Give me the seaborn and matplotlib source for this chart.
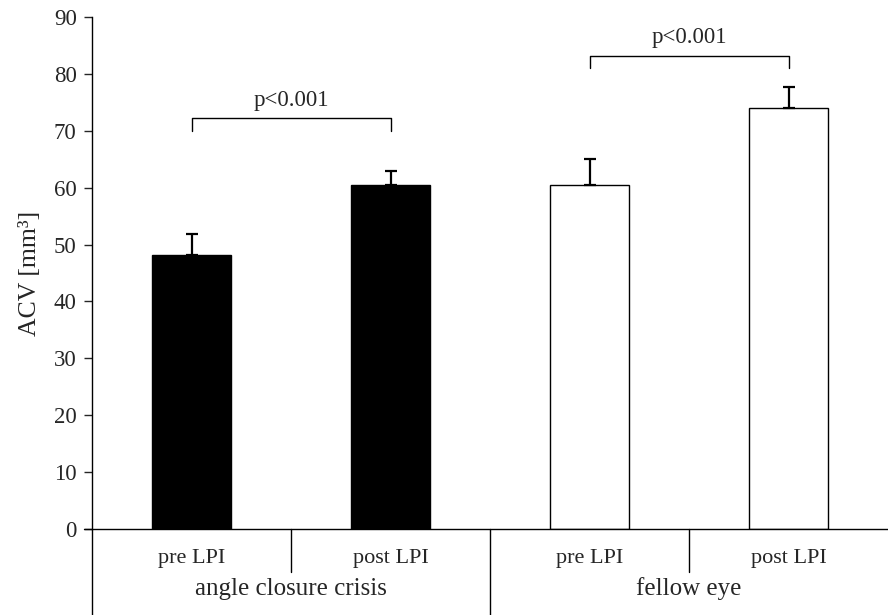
import matplotlib
matplotlib.use("Agg")
import matplotlib.pyplot as plt
import matplotlib.transforms as mtransforms
import pandas as pd
import seaborn as sns

# --------------------------------------------------------------
# Data
# --------------------------------------------------------------
groups = ["angle closure crisis", "angle closure crisis", "fellow eye", "fellow eye"]
timepoints = ["pre LPI", "post LPI", "pre LPI", "post LPI"]
acv_mean = [48.2, 60.5, 60.4, 74.0]
acv_sd = [3.6, 2.4, 4.7, 3.7]
brackets = [(0, 1, 70.0, 72.2), (2, 3, 81.0, 83.2)]
p_label = "p<0.001"

df = pd.DataFrame(
    {
        "key": [f"{g}|{t}" for g, t in zip(groups, timepoints)],
        "group": groups,
        "time": timepoints,
        "acv": acv_mean,
    }
)

# --------------------------------------------------------------
# Plot
# --------------------------------------------------------------
sns.set_style("white")
plt.rcParams["font.family"] = ["Liberation Serif", "DejaVu Serif"]

fig = plt.figure(figsize=(8.88, 6.15), dpi=100)
ax = fig.add_axes([92 / 888, 86 / 615, 796 / 888, 512 / 615])

sns.barplot(
    data=df,
    x="key",
    y="acv",
    hue="group",
    palette={"angle closure crisis": "black", "fellow eye": "white"},
    edgecolor="black",
    linewidth=1.0,
    width=0.4,
    dodge=False,
    legend=False,
    ax=ax,
)

ax.errorbar(
    range(len(acv_mean)),
    acv_mean,
    yerr=[[0] * len(acv_sd), acv_sd],
    fmt="none",
    ecolor="black",
    elinewidth=1.6,
    capsize=4.3,
    capthick=1.6,
)

# significance brackets
for x0, x1, y_end, y_top in brackets:
    ax.plot([x0, x0, x1, x1], [y_end, y_top, y_top, y_end], color="black", lw=1.0)
    ax.text((x0 + x1) / 2, y_top + 1.3, p_label, ha="center", va="bottom", fontsize=16.5)

ax.set_xlim(-0.5, 3.5)
ax.set_ylim(0, 90)
ax.set_yticks(range(0, 91, 10))
ax.tick_params(axis="y", labelsize=16.5, length=6, width=1, direction="out", left=True, pad=5)
ax.set_xticks([])
ax.set_xlabel("")
ax.set_ylabel("ACV [mm³]", fontsize=18.5, labelpad=9)

for side in ["top", "right", "bottom"]:
    ax.spines[side].set_visible(False)
ax.spines["left"].set_color("black")
ax.spines["left"].set_linewidth(1.0)

# two level category axis
trans = mtransforms.blended_transform_factory(ax.transData, ax.transAxes)
ax.plot([-0.5 - 0.04, 3.5], [0, 0], transform=trans, color="black", lw=1.0, clip_on=False)
ax.plot([-0.5, -0.5], [0, -0.168], transform=trans, color="black", lw=1.0, clip_on=False)
for xb in [0.5, 2.5]:
    ax.plot([xb, xb], [0, -0.084], transform=trans, color="black", lw=1.0, clip_on=False)
ax.plot([1.5, 1.5], [0, -0.168], transform=trans, color="black", lw=1.0, clip_on=False)

for i, t in enumerate(timepoints):
    ax.text(i, -0.057, t, transform=trans, ha="center", va="center", fontsize=16)
for i, g in enumerate(["angle closure crisis", "fellow eye"]):
    ax.text(2 * i + 0.5, -0.117, g, transform=trans, ha="center", va="center", fontsize=18)

fig.savefig("out.png", dpi=100)
